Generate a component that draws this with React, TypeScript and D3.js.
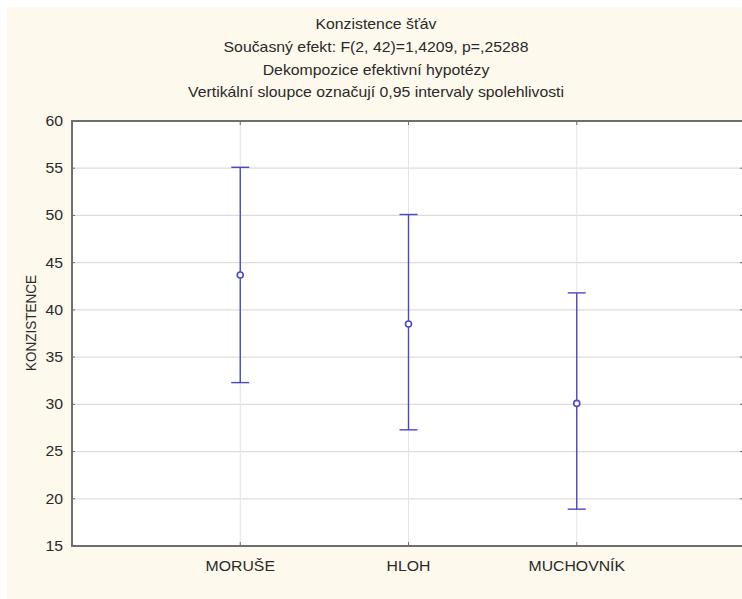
import React from "react";
import * as d3 from "d3";

const categories = ["MORUŠE", "HLOH", "MUCHOVNÍK"];
const means = [43.7, 38.5, 30.1];
const upper = [55.1, 50.1, 41.8];
const lower = [32.3, 27.3, 18.9];
const yTicks = [15, 20, 25, 30, 35, 40, 45, 50, 55, 60];
const titleLines = [
  "Konzistence šťáv",
  "Současný efekt: F(2, 42)=1,4209, p=,25288",
  "Dekompozice efektivní hypotézy",
  "Vertikální sloupce označují 0,95 intervaly spolehlivosti",
];
const yLabel = "KONZISTENCE";

const W = 742;
const H = 599;
const plot = { left: 72, right: 745, top: 121, bottom: 546 };
const font = "'Liberation Sans', Arial, sans-serif";
const blue = "#4a48c4";
const textColor = "#2a2a2a";
const SX = 1.13;

function SText(props: {
  x: number;
  y: number;
  anchor: "start" | "middle" | "end";
  size: number;
  children: React.ReactNode;
  dy?: string;
}) {
  return (
    <text
      transform={`translate(${props.x},${props.y}) scale(${SX},1)`}
      textAnchor={props.anchor}
      dy={props.dy}
      fontFamily={font}
      fontSize={props.size}
      fill={textColor}
    >
      {props.children}
    </text>
  );
}

export default function App() {
  const y = d3.scaleLinear().domain([15, 60]).range([plot.bottom, plot.top]);
  const x = d3
    .scalePoint<number>()
    .domain([0, 1, 2, 3, 4])
    .range([plot.left, plot.right]);
  const cx = (i: number) => x(i + 1) as number;

  return (
    <svg
      width={W}
      height={H}
      style={{ position: "absolute", left: 0, top: 0, display: "block" }}
    >
      <rect x={0} y={0} width={W} height={H} fill="#ffffff" />
      <rect x={7} y={7} width={W - 7} height={H - 7} fill="#fdf9ec" />
      <rect
        x={plot.left}
        y={plot.top}
        width={plot.right - plot.left}
        height={plot.bottom - plot.top}
        fill="#ffffff"
      />
      {titleLines.map((t, i) => (
        <SText key={i} x={376} y={29 + i * 22.8} anchor="middle" size={14}>
          {t}
        </SText>
      ))}
      {/* horizontal gridlines */}
      {yTicks
        .filter((v) => v !== 15 && v !== 60)
        .map((v) => (
          <line
            key={"g" + v}
            x1={plot.left}
            x2={plot.right}
            y1={y(v)}
            y2={y(v)}
            stroke="#dcdcdc"
            strokeWidth={1.2}
          />
        ))}
      {/* vertical gridlines */}
      {categories.map((c, i) => (
        <line
          key={"vg" + c}
          x1={cx(i)}
          x2={cx(i)}
          y1={plot.top}
          y2={plot.bottom}
          stroke="#e2e2ea"
          strokeWidth={1}
        />
      ))}
      {/* frame */}
      <rect
        x={plot.left}
        y={plot.top}
        width={plot.right - plot.left}
        height={plot.bottom - plot.top}
        fill="none"
        stroke="#6e6e6e"
        strokeWidth={2}
      />
      {/* left ticks and labels */}
      {yTicks.map((v) => (
        <g key={"t" + v}>
          <line
            x1={plot.left}
            x2={plot.left + 3}
            y1={y(v)}
            y2={y(v)}
            stroke="#6e6e6e"
          />
          <line
            x1={plot.right - 5}
            x2={plot.right}
            y1={y(v)}
            y2={y(v)}
            stroke="#6e6e6e"
          />
          <SText x={plot.left - 9} y={y(v)} dy="0.35em" anchor="end" size={14}>
            {v}
          </SText>
        </g>
      ))}
      {/* category ticks and labels */}
      {categories.map((c, i) => (
        <g key={"c" + c}>
          <line
            x1={cx(i)}
            x2={cx(i)}
            y1={plot.top}
            y2={plot.top + 4}
            stroke="#6e6e6e"
          />
          <line
            x1={cx(i)}
            x2={cx(i)}
            y1={plot.bottom - 4}
            y2={plot.bottom}
            stroke="#6e6e6e"
          />
          <SText x={cx(i)} y={566} dy="0.35em" anchor="middle" size={14}>
            {c}
          </SText>
        </g>
      ))}
      <text
        transform={`translate(31, 323) rotate(-90) scale(1,${SX})`}
        textAnchor="middle"
        dy="0.35em"
        fontFamily={font}
        fontSize={13.5}
        fill={textColor}
      >
        {yLabel}
      </text>
      {/* error bars */}
      {categories.map((c, i) => (
        <g key={"e" + c} stroke={blue} strokeWidth={1.4}>
          <line x1={cx(i)} x2={cx(i)} y1={y(upper[i])} y2={y(lower[i])} />
          <line
            x1={cx(i) - 9}
            x2={cx(i) + 9}
            y1={y(upper[i])}
            y2={y(upper[i])}
          />
          <line
            x1={cx(i) - 9}
            x2={cx(i) + 9}
            y1={y(lower[i])}
            y2={y(lower[i])}
          />
          <circle
            cx={cx(i)}
            cy={y(means[i])}
            r={3}
            fill="#ffffff"
            strokeWidth={1.6}
          />
        </g>
      ))}
    </svg>
  );
}
